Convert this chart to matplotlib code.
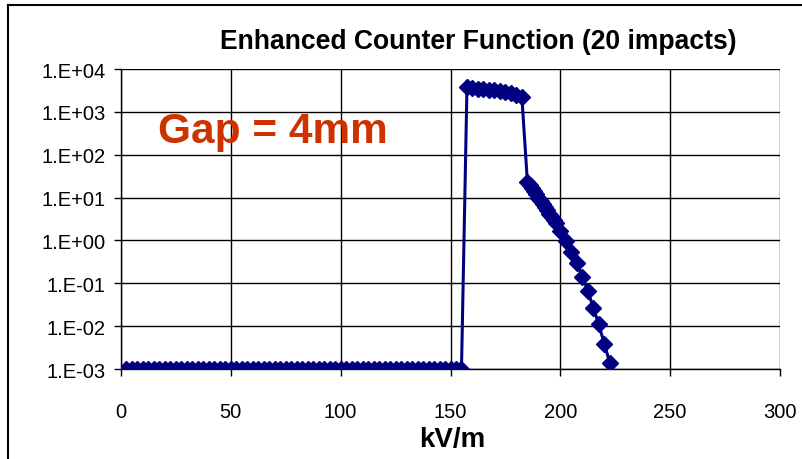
import matplotlib
matplotlib.use("Agg")
import matplotlib.pyplot as plt
from matplotlib.lines import Line2D
from matplotlib.ticker import FixedLocator, FixedFormatter, NullLocator

plt.rcParams['font.family'] = ['Liberation Sans', 'DejaVu Sans']

# ---- data ----
low_x = [2.5, 5, 7.5, 10, 12.5, 15, 17.5, 20, 22.5, 25, 27.5, 30, 32.5, 35, 37.5, 40,
         42.5, 45, 47.5, 50, 52.5, 55, 57.5, 60, 62.5, 65, 67.5, 70, 72.5, 75, 77.5, 80,
         82.5, 85, 87.5, 90, 92.5, 95, 97.5, 100, 102.5, 105, 107.5, 110, 112.5, 115,
         117.5, 120, 122.5, 125, 127.5, 130, 132.5, 135, 137.5, 140, 142.5, 145, 147.5,
         150, 152.5, 155]
low_y = [1e-3] * len(low_x)
plateau_x = [157.5, 160, 162.5, 165, 167.5, 170, 172.5, 175, 177.5, 180, 182.5]
plateau_y = [3800, 3600, 3500, 3400, 3300, 3200, 3100, 2900, 2700, 2500, 2200]
chain_x = [185, 186, 187, 188, 189, 190, 191, 192, 193, 194, 195, 196, 197, 198]
chain_y = [23.4, 19.7, 16.6, 14.0, 11.8, 9.9, 8.4, 7.0, 5.9, 5.0, 4.2, 3.5, 3.0, 2.5]
tail_x = [200, 202.5, 205, 207.5, 210, 212.5, 215, 217.5, 220, 222.5, 225]
tail_y = [1.67, 0.98, 0.54, 0.30, 0.14, 0.067, 0.027, 0.011, 0.0039, 0.0014, 0.0004]

x = low_x + plateau_x + chain_x + tail_x
y = low_y + plateau_y + chain_y + tail_y

y_ticks = [1e-3, 1e-2, 1e-1, 1e0, 1e1, 1e2, 1e3, 1e4]
y_labels = ["1.E-03", "1.E-02", "1.E-01", "1.E+00", "1.E+01", "1.E+02", "1.E+03", "1.E+04"]
x_ticks = [0, 50, 100, 150, 200, 250, 300]

title = "Enhanced Counter Function (20 impacts)"
xlabel = "kV/m"
note = "Gap = 4mm"

# ---- figure ----
W, H = 802, 460
fig = plt.figure(figsize=(W / 100, H / 100), dpi=100)
ax = fig.add_axes([121 / W, 1 - 370 / H, (780 - 121) / W, (370 - 70) / H])

line_color = '#000080'
ax.plot(x, y, color=line_color, lw=2.2, marker='D', ms=8.5, mfc=line_color,
        mec=line_color, clip_on=True, zorder=3)

ax.set_yscale('log')
ax.set_xlim(0, 300)
ax.set_ylim(1e-3, 1e4)
ax.yaxis.set_major_locator(FixedLocator(y_ticks))
ax.yaxis.set_major_formatter(FixedFormatter(y_labels))
ax.yaxis.set_minor_locator(NullLocator())
ax.set_xticks(x_ticks)
ax.set_xticklabels([str(v) for v in x_ticks])

ax.grid(True, which='major', color='black', lw=1)
ax.set_axisbelow(True)
for s in ['top', 'right']:
    ax.spines[s].set_visible(False)
for s in ['left', 'bottom']:
    ax.spines[s].set_color('black')
    ax.spines[s].set_linewidth(1)

ax.tick_params(axis='both', direction='out', length=5, width=1, colors='black',
               labelsize=14.5)
ax.tick_params(axis='y', pad=6)
ax.tick_params(axis='x', pad=19)

fig.text(452 / W, 1 - 440 / H, xlabel, fontsize=20, fontweight='bold',
         ha='center', va='center')
fig.text(478 / W, 1 - 42 / H, title, fontsize=19.1, fontweight='bold',
         ha='center', va='center')
fig.text(158 / W, 1 - 143 / H, note, fontsize=30.5, fontweight='bold',
         color='#CC3300', ha='left', va='baseline')

# outer border (left and top edges visible)
fig.add_artist(Line2D([8 / W, 8 / W], [0, 1 - 6 / H], transform=fig.transFigure,
                      color='black', lw=1.5))
fig.add_artist(Line2D([8 / W, 1], [1 - 6 / H, 1 - 6 / H], transform=fig.transFigure,
                      color='black', lw=1.5))

fig.savefig("out.png", dpi=100)
